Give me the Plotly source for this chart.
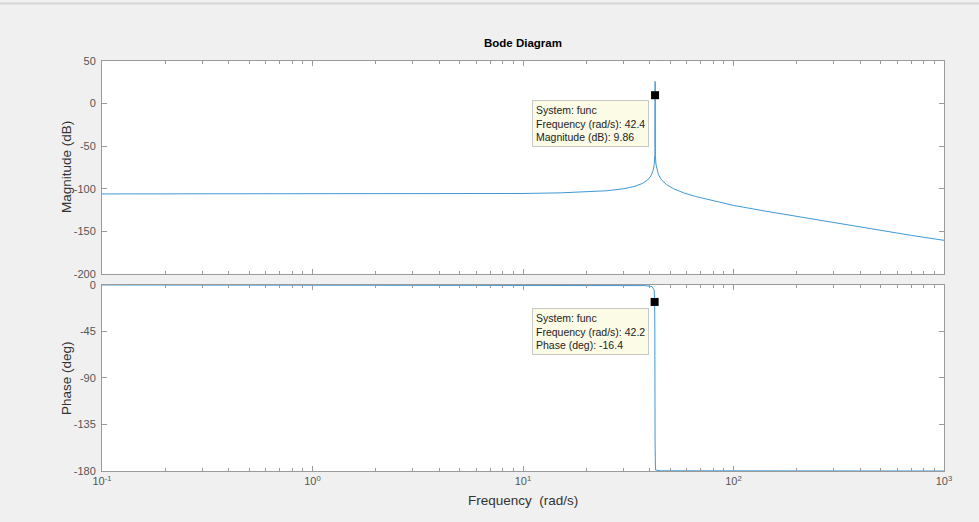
import plotly.graph_objects as go

# Magnitude response samples (rad/s, dB)
mag_freq = [0.1, 1, 5, 10, 15, 20, 25, 30, 34, 37, 39, 40.5, 41.5, 42.0, 42.2, 42.33,
            42.4, 42.43, 42.46, 42.55, 42.8, 43.3, 44, 45.5, 48, 52, 58, 66, 78, 100,
            140, 200, 300, 500, 700, 1000]
mag_db = [-106.0, -106.0, -105.9, -105.5, -104.8, -103.8, -102.3, -100.0, -97.1, -93.6,
          -89.8, -85.0, -78.5, -71.5, -65.5, -59.5, 9.86, 26.0, -50.0, -61.0, -70.9,
          -78.3, -83.5, -89.5, -94.9, -100.0, -104.8, -109.0, -113.5, -119.5, -126.0,
          -132.5, -139.8, -148.8, -154.7, -160.5]

# Phase response samples (rad/s, deg)
ph_freq = [0.1, 10, 30, 38, 41, 42.0, 42.2, 42.3, 42.4, 42.45, 42.6, 45, 100, 1000]
ph_deg = [0.0, -0.05, -0.2, -0.6, -1.5, -5.0, -16.4, -40.0, -150.0, -176.0, -179.0,
          -179.8, -180.0, -180.0]

# Data tips
tip_mag = (42.4, 9.86)
tip_ph = (42.2, -16.4)

x_ticks = [0.1, 1, 10, 100, 1000]
x_ticktext = ["10<sup>-1</sup>", "10<sup>0</sup>", "10<sup>1</sup>", "10<sup>2</sup>", "10<sup>3</sup>"]
x_minor = [m * 10 ** e for e in range(-1, 3) for m in range(2, 10)]

mag_ticks = [50, 0, -50, -100, -150, -200]
ph_ticks = [0, -45, -90, -135, -180]

FONT = "Liberation Sans, Arial, Helvetica, sans-serif"
LINE_BLUE = "#3f98d6"
AX_GRAY = "#9a9a9a"
TICK_FONT = dict(family=FONT, size=11, color="#555555")
LABEL_FONT = dict(family=FONT, size=13.5, color="#333333")

fig = go.Figure()
fig.add_trace(go.Scatter(x=mag_freq, y=mag_db, mode="lines",
                         line=dict(color=LINE_BLUE, width=1), xaxis="x2", yaxis="y2",
                         hoverinfo="skip"))
fig.add_trace(go.Scatter(x=ph_freq, y=ph_deg, mode="lines",
                         line=dict(color=LINE_BLUE, width=1), xaxis="x", yaxis="y",
                         hoverinfo="skip"))
fig.add_trace(go.Scatter(x=[tip_mag[0]], y=[tip_mag[1]], mode="markers",
                         marker=dict(symbol="square", size=8, color="black"),
                         xaxis="x2", yaxis="y2", hoverinfo="skip"))
fig.add_trace(go.Scatter(x=[tip_ph[0]], y=[tip_ph[1]], mode="markers",
                         marker=dict(symbol="square", size=8, color="black"),
                         xaxis="x", yaxis="y", hoverinfo="skip"))

common_x = dict(type="log", range=[-1, 3], showline=True, linecolor=AX_GRAY, linewidth=1,
                mirror="ticks", ticks="inside", ticklen=5, tickcolor=AX_GRAY,
                tickmode="array", tickvals=x_ticks, ticktext=x_ticktext,
                minor=dict(ticks="inside", ticklen=3, tickcolor=AX_GRAY, tickvals=x_minor,
                           showgrid=False),
                showgrid=False, zeroline=False, tickfont=TICK_FONT)
common_y = dict(showline=True, linecolor=AX_GRAY, linewidth=1, mirror="ticks",
                ticks="inside", ticklen=5, tickcolor=AX_GRAY, showgrid=False,
                zeroline=False, tickfont=TICK_FONT, tickmode="array",
                ticklabelstandoff=3)

fig.update_layout(
    width=979, height=522,
    margin=dict(l=102, r=35, t=61, b=51),
    paper_bgcolor="#f0f0f0", plot_bgcolor="white",
    showlegend=False,
    xaxis=dict(**common_x, anchor="y", domain=[0, 1]),
    xaxis2=dict(**common_x, anchor="y2", domain=[0, 1], matches="x", showticklabels=False),
    yaxis=dict(**common_y, domain=[0, 0.4537], range=[-180, 0], tickvals=ph_ticks,
               ticktext=[str(v) for v in ph_ticks], anchor="x"),
    yaxis2=dict(**common_y, domain=[0.4805, 1], range=[-200, 50], tickvals=mag_ticks,
                ticktext=[str(v) for v in mag_ticks], anchor="x2"),
)

# Title and axis labels
fig.add_annotation(text="<b>Bode Diagram</b>", xref="paper", yref="paper",
                   x=0.5, y=(471 - 43) / 410, xanchor="center", yanchor="middle",
                   showarrow=False, font=dict(family=FONT, size=11.5, color="black"))
fig.add_annotation(text="Magnitude (dB)", xref="paper", yref="paper",
                   x=-36 / 842, y=(471 - 167) / 410, xanchor="center", yanchor="middle",
                   textangle=-90, showarrow=False, font=LABEL_FONT)
fig.add_annotation(text="Phase (deg)", xref="paper", yref="paper",
                   x=-36 / 842, y=(471 - 378) / 410, xanchor="center", yanchor="middle",
                   textangle=-90, showarrow=False, font=LABEL_FONT)
fig.add_annotation(text="Frequency  (rad/s)", xref="paper", yref="paper",
                   x=0.5, y=-29 / 410, xanchor="center", yanchor="middle",
                   showarrow=False, font=LABEL_FONT)

# Data tip boxes
tip_font = dict(family=FONT, size=10.5, color="#222222")
fig.add_annotation(text="System: func<br>Frequency (rad/s): 42.4<br>Magnitude (dB): 9.86",
                   xref="paper", yref="paper", x=(532 - 102) / 842, y=(471 - 100) / 410,
                   xanchor="left", yanchor="top", align="left", showarrow=False,
                   bgcolor="#fbfbe6", bordercolor="#c8c8c8", borderwidth=1, borderpad=3,
                   font=tip_font)
fig.add_annotation(text="System: func<br>Frequency (rad/s): 42.2<br>Phase (deg): -16.4",
                   xref="paper", yref="paper", x=(532 - 102) / 842, y=(471 - 308) / 410,
                   xanchor="left", yanchor="top", align="left", showarrow=False,
                   bgcolor="#fbfbe6", bordercolor="#c8c8c8", borderwidth=1, borderpad=3,
                   font=tip_font)

# Window edge strip at the top
fig.add_shape(type="line", xref="paper", yref="paper", x0=-102 / 842, x1=(979 - 102) / 842,
              y0=(471 - 3.5) / 410, y1=(471 - 3.5) / 410,
              line=dict(color="#d6d6d6", width=2))

fig.write_html("out.html")
